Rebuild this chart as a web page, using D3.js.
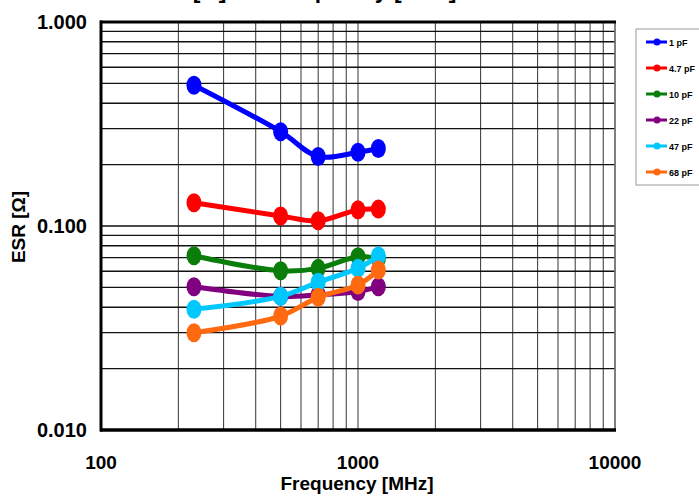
<!DOCTYPE html>
<html><head><meta charset="utf-8">
<script src="https://cdn.jsdelivr.net/npm/d3@7"></script>
<style>body{margin:0;background:#fff}svg{display:block;font-family:"Liberation Sans",Arial,sans-serif;font-weight:bold}</style>
</head><body><svg id="c" width="699" height="500"></svg>
<script>
const frequencies = [230, 500, 700, 1000, 1200];
const seriesNames = ["1 pF", "4.7 pF", "10 pF", "22 pF", "47 pF", "68 pF"];
const esr1pF  = [0.490, 0.290, 0.219, 0.230, 0.240];
const esr4p7pF = [0.130, 0.112, 0.106, 0.120, 0.121];
const esr10pF = [0.0715, 0.0604, 0.0620, 0.0707, 0.0690];
const esr22pF = [0.0504, 0.0452, 0.0460, 0.0477, 0.0504];
const esr47pF = [0.0391, 0.0452, 0.0530, 0.0620, 0.0713];
const esr68pF = [0.0300, 0.0362, 0.0447, 0.0514, 0.0608];
const seriesColors = ["#0000ff", "#ff0000", "#0a7d0a", "#800080", "#00c8ff", "#ff6a10"];
const xTickLabels = ["100", "1000", "10000"];
const yTickLabels = ["0.010", "0.100", "1.000"];
const titleText = "ESR [Ω] vs. Frequency [MHz]";

const seriesValues = [esr1pF, esr4p7pF, esr10pF, esr22pF, esr47pF, esr68pF];
const svg = d3.select("#c");
const L = 101, R = 615, T = 22, B = 430;
const x = d3.scaleLog().domain([100, 10000]).range([L, R]);
const y = d3.scaleLog().domain([0.01, 1]).range([B, T]);

// title (clipped at top)
svg.append("text").attr("x", 139).attr("y", -2).attr("font-size", 23).text(titleText);

// grid
const g = svg.append("g");
g.selectAll("line.v").data(x.ticks()).join("line")
  .attr("x1", d => x(d)).attr("x2", d => x(d)).attr("y1", T).attr("y2", B)
  .attr("stroke", "#333").attr("stroke-width", 1);
g.selectAll("line.h").data(y.ticks()).join("line")
  .attr("y1", d => y(d)).attr("y2", d => y(d)).attr("x1", L).attr("x2", R)
  .attr("stroke", "#111").attr("stroke-width", 1.4);

// frame
svg.append("line").attr("x1", R).attr("x2", R).attr("y1", T).attr("y2", B).attr("stroke", "#777").attr("stroke-width", 1.5);
svg.append("line").attr("x1", L - 1).attr("x2", R + 1).attr("y1", T).attr("y2", T).attr("stroke", "#000").attr("stroke-width", 3);
svg.append("line").attr("x1", L - 1).attr("x2", R + 1).attr("y1", B).attr("y2", B).attr("stroke", "#000").attr("stroke-width", 3.5);
svg.append("line").attr("x1", L).attr("x2", L).attr("y1", T - 1.5).attr("y2", B + 1.5).attr("stroke", "#000").attr("stroke-width", 3);

// axes labels
svg.append("g").selectAll("text").data(yTickLabels).join("text")
  .attr("x", 87).attr("y", d => y(+d) + 7).attr("text-anchor", "end").attr("font-size", 20).text(d => d);
svg.append("g").selectAll("text").data(xTickLabels).join("text")
  .attr("x", d => x(+d)).attr("y", 469).attr("text-anchor", "middle").attr("font-size", 19).text(d => d);
svg.append("text").attr("x", 357).attr("y", 490).attr("text-anchor", "middle").attr("font-size", 19).text("Frequency [MHz]");
svg.append("text").attr("transform", "translate(25,227) rotate(-90)").attr("text-anchor", "middle").attr("font-size", 19).text("ESR [Ω]");

// series
const line = d3.line().x(d => x(d[0])).y(d => y(d[1])).curve(d3.curveCatmullRom.alpha(0.5));
seriesValues.forEach((vals, i) => {
  const pts = frequencies.map((f, j) => [f, vals[j]]);
  const sg = svg.append("g");
  sg.append("path").attr("d", line(pts)).attr("fill", "none").attr("stroke", seriesColors[i])
    .attr("stroke-width", 5).attr("stroke-linejoin", "round");
  sg.selectAll("ellipse").data(pts).join("ellipse")
    .attr("cx", d => x(d[0])).attr("cy", d => y(d[1])).attr("rx", 7.5).attr("ry", 9.5)
    .attr("fill", seriesColors[i]);
});

// legend
const lg = svg.append("g");
lg.append("rect").attr("x", 636).attr("y", 29).attr("width", 90).attr("height", 156)
  .attr("fill", "#fff").attr("stroke", "#999").attr("stroke-width", 1);
seriesNames.forEach((n, i) => {
  const yy = 42 + i * 26;
  lg.append("line").attr("x1", 646).attr("x2", 667).attr("y1", yy).attr("y2", yy)
    .attr("stroke", seriesColors[i]).attr("stroke-width", 3);
  lg.append("circle").attr("cx", 657).attr("cy", yy).attr("r", 3.5).attr("fill", seriesColors[i]);
  lg.append("text").attr("x", 669).attr("y", yy + 3.5).attr("font-size", 9).text(n);
});
</script></body></html>
